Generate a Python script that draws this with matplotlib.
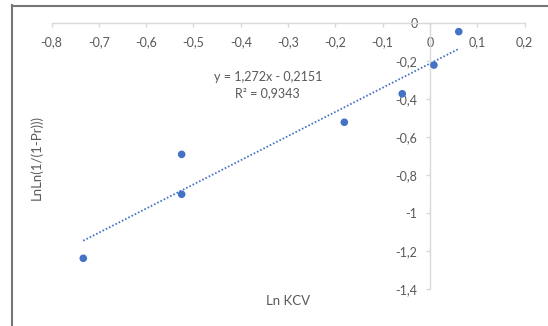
import matplotlib
matplotlib.use("Agg")
import matplotlib.pyplot as plt
from matplotlib.lines import Line2D
import numpy as np

plt.rcParams['font.family'] = ['Lato', 'DejaVu Sans']

# Observations: Ln KCV against LnLn(1/(1-Pr))
ln_kcv = [-0.733, -0.525, -0.525, -0.181, -0.0585, 0.0085, 0.061]
lnln_pr = [-1.240, -0.903, -0.693, -0.524, -0.374, -0.223, -0.047]

# Linear trendline coefficients
slope = 1.272
intercept = -0.2151
r_squared = 0.9343

x_ticks = [-0.8, -0.7, -0.6, -0.5, -0.4, -0.3, -0.2, -0.1, 0.0, 0.1, 0.2]
x_tick_labels = ['-0,8', '-0,7', '-0,6', '-0,5', '-0,4', '-0,3', '-0,2', '-0,1', '0', '0,1', '0,2']
y_ticks = [0.0, -0.2, -0.4, -0.6, -0.8, -1.0, -1.2, -1.4]
y_tick_labels = ['0', '-0,2', '-0,4', '-0,6', '-0,8', '-1', '-1,2', '-1,4']

W, H = 548, 326
fig = plt.figure(figsize=(W / 100, H / 100), dpi=100)
fig.patch.set_facecolor('white')

def px(x, y):
    return x / W, 1 - y / H

left, right, top, bottom = 51.6, 524.5, 22.7, 288.7
ax = fig.add_axes([left / W, 1 - bottom / H, (right - left) / W, (bottom - top) / H])
ax.set_xlim(-0.8, 0.2)
ax.set_ylim(-1.4, 0.0)
ax.patch.set_alpha(0)

axis_col = '#d9d9d9'
text_col = '#595959'
blue = '#4472C4'

for s in ['top', 'right']:
    ax.spines[s].set_visible(False)
ax.spines['bottom'].set_position(('data', 0))
ax.spines['left'].set_position(('data', 0))
for s in ['bottom', 'left']:
    ax.spines[s].set_color(axis_col)
    ax.spines[s].set_linewidth(1.0)

ax.set_xticks(x_ticks)
ax.set_xticklabels(x_tick_labels)
ax.set_yticks(y_ticks)
ax.set_yticklabels(y_tick_labels)
ax.tick_params(axis='x', direction='out', length=3, width=1.0, color=axis_col,
               labelcolor=text_col, labelsize=9, pad=7)
ax.tick_params(axis='y', direction='out', length=3, width=1.0, color=axis_col,
               labelcolor=text_col, labelsize=9, pad=6)

# Trendline across the observed range
xl = np.array([min(ln_kcv), max(ln_kcv)])
ax.plot(xl, slope * xl + intercept, color=blue, lw=1.3,
        linestyle=(0, (0.9, 1.1)), zorder=2)

ax.scatter(ln_kcv, lnln_pr, s=30, color=blue, edgecolors='none', zorder=3,
           clip_on=False)

eq = f"y = {slope:.3f}x - {abs(intercept):.4f}".replace('.', ',')
r2 = f"R² = {r_squared:.4f}".replace('.', ',')
fig.text(*px(268, 77), eq, ha='center', va='center', fontsize=9, color=text_col)
fig.text(*px(267.5, 93), r2, ha='center', va='center', fontsize=9, color=text_col)

fig.text(*px(288, 301), 'Ln KCV', ha='center', va='center', fontsize=9.5, color=text_col)
fig.text(*px(36.7, 158), 'LnLn(1/(1-Pr)))', ha='center', va='center', rotation=90,
         fontsize=9.5, color=text_col)

# Chart area border (left and top edges)
frame_col = '#767676'
fig.add_artist(Line2D([12 / W, 12 / W], [0, 1 - 5 / H], transform=fig.transFigure,
                      color=frame_col, lw=1.5))
fig.add_artist(Line2D([12 / W, 1], [1 - 5.5 / H, 1 - 5.5 / H], transform=fig.transFigure,
                      color=frame_col, lw=1.5))

fig.savefig('out.png', dpi=100, facecolor='white')
